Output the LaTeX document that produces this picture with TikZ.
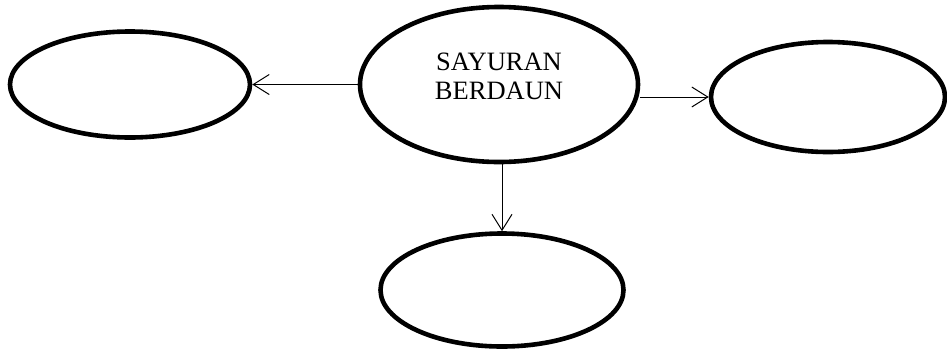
\documentclass[tikz,border=0pt]{standalone}
\usepackage{fontspec}
\setmainfont{Liberation Serif}
\usetikzlibrary{shapes.geometric,arrows.meta}
\tikzset{
  bubble/.style={ellipse, draw=black, line width=4.6pt, inner sep=0pt},
  arr/.style={draw=black, line width=1pt, -{Straight Barb[length=16pt,width=20pt,line width=1pt]}}
}
\begin{document}
\begin{tikzpicture}[x=1pt,y=-1pt]
\useasboundingbox (0,0) rectangle (947,349);
\node[bubble, minimum width=240pt, minimum height=106pt] (L) at (130,84.5) {};
\node[bubble, minimum width=278pt, minimum height=155pt,
  label={[font=\fontsize{26.5}{29.5}\selectfont, align=center, yshift=8pt]center:SAYURAN\\BERDAUN}] (C) at (499,84.5) {};
\node[bubble, minimum width=234pt, minimum height=110pt] (R) at (828,97) {};
\node[bubble, minimum width=243pt, minimum height=113pt] (B) at (502,290) {};
\draw[arr] (C.west) -- (L.east);
\draw[arr] (C.east |- R.west) -- (R.west);
\draw[arr] (C.south -| B.north) -- (B.north);
\end{tikzpicture}
\end{document}
